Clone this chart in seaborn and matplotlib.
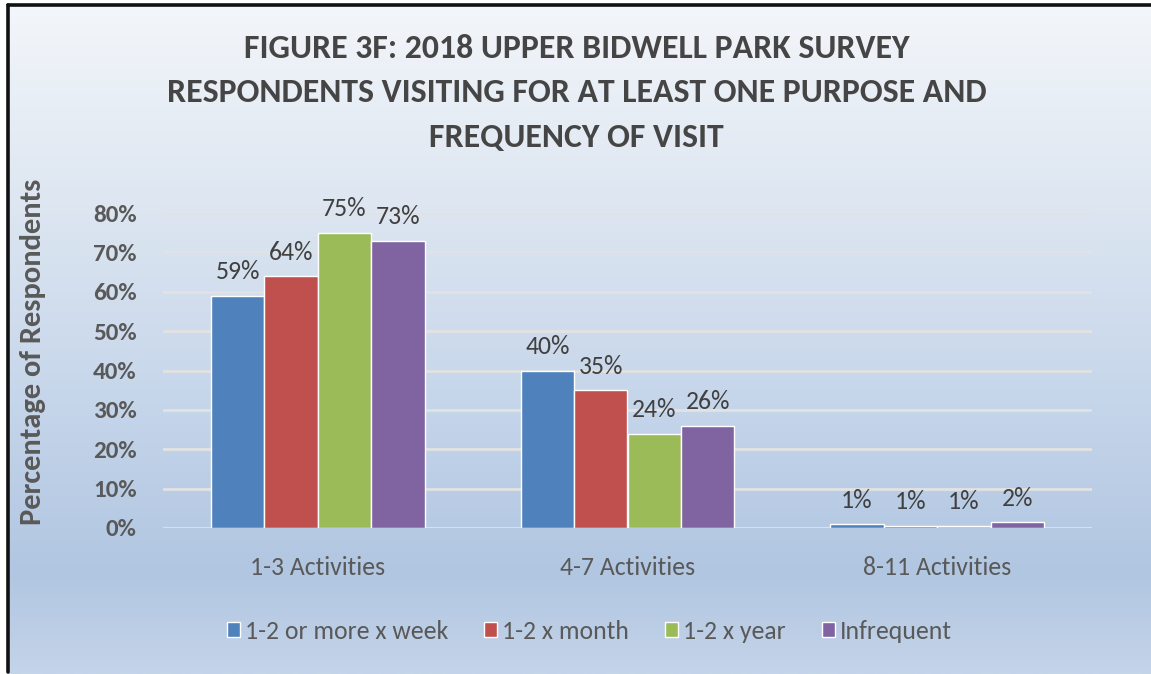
import numpy as np
import pandas as pd
import matplotlib
matplotlib.use("Agg")
import matplotlib.pyplot as plt
from matplotlib.colors import LinearSegmentedColormap
from matplotlib.lines import Line2D
import seaborn as sns

# Survey results: share of respondents by number of activities and visit frequency
categories = ["1-3 Activities", "4-7 Activities", "8-11 Activities"]
frequencies = ["1-2 or more x week", "1-2 x month", "1-2 x year", "Infrequent"]
weekly = [59, 40, 1.0]
monthly = [64, 35, 0.6]
yearly = [75, 24, 0.6]
infrequent = [73, 26, 1.5]
yticks = [0, 10, 20, 30, 40, 50, 60, 70, 80]
title = ("FIGURE 3F: 2018 UPPER BIDWELL PARK SURVEY\n"
         "RESPONDENTS VISITING FOR AT LEAST ONE PURPOSE AND\n"
         "FREQUENCY OF VISIT")

colors = ["#4F81BD", "#C0504D", "#9BBB59", "#8064A2"]
text_gray = "#595959"

rows = []
for freq, vals in zip(frequencies, [weekly, monthly, yearly, infrequent]):
    for cat, v in zip(categories, vals):
        rows.append({"Activities": cat, "Frequency": freq, "Percent": v})
df = pd.DataFrame(rows)

sns.set_theme(style="white")
plt.rcParams["font.family"] = ["Carlito", "DejaVu Sans"]

W, H = 1151, 674
fig = plt.figure(figsize=(W / 100, H / 100), dpi=100)
fig.patch.set_facecolor("white")

# Vertical gradient backdrop inside the frame
bg = fig.add_axes([8 / W, 0, 1 - 8 / W, 1 - 5 / H], zorder=-10)
grad_cmap = LinearSegmentedColormap.from_list(
    "bg", [(0.0, "#f3f6fa"), (0.30, "#dde6f1"), (0.60, "#c5d5ea"),
           (0.85, "#b1c6e1"), (1.0, "#c4d4e9")])
grad = np.linspace(0, 1, 256).reshape(-1, 1)
bg.imshow(grad, aspect="auto", cmap=grad_cmap, extent=[0, 1, 0, 1], origin="upper")
bg.set_axis_off()

# Frame lines (left and top)
fig.add_artist(Line2D([8 / W, 8 / W], [0.003, 1 - 5 / H], transform=fig.transFigure,
                      color="#111111", lw=2.6))
fig.add_artist(Line2D([8 / W, 1.0], [1 - 5 / H, 1 - 5 / H], transform=fig.transFigure,
                      color="#111111", lw=2.6))

ax = fig.add_axes([163 / W, 1 - 528 / H, (1092 - 163) / W, (528 - 213) / H])
ax.set_facecolor("none")
sns.barplot(data=df, x="Activities", y="Percent", hue="Frequency",
            order=categories, hue_order=frequencies, palette=colors,
            width=0.69, saturation=1, errorbar=None, ax=ax, zorder=3)

ax.set_ylim(0, 80)
ax.set_xlim(-0.5, 2.5)
ax.set_yticks(yticks)
ax.set_yticklabels([f"{t}%" for t in yticks], fontsize=18, fontweight="bold",
                   color=text_gray)
ax.tick_params(axis="y", length=0, pad=19)
ax.tick_params(axis="x", length=0, pad=20, labelsize=18.5, labelcolor=text_gray)
for spine in ax.spines.values():
    spine.set_visible(False)
ax.yaxis.grid(True, color="#e2e2e2", lw=2.0, zorder=0)
ax.set_axisbelow(True)
ax.set_xlabel("")
ax.set_ylabel("")
ax.text(-0.14, 0.559, "Percentage of Respondents", transform=ax.transAxes,
        rotation=90, ha="center", va="center", fontsize=22, fontweight="bold",
        color=text_gray)

for container in ax.containers:
    ax.bar_label(container, labels=[f"{v:.0f}%" for v in container.datavalues],
                 padding=9, fontsize=18.5, color="#404040", clip_on=False)

leg = ax.legend(loc="center", bbox_to_anchor=(0.459, -0.327), ncol=4, frameon=False,
                fontsize=18.5, handlelength=0.5, handleheight=0.5,
                handletextpad=0.2, columnspacing=1.4)
for t in leg.get_texts():
    t.set_color(text_gray)

fig.text(0.501, 1 - 93 / H, title, ha="center", va="center", fontsize=24.3,
         fontweight="bold", color="#454545", linespacing=1.66)

fig.savefig("out.png", dpi=100)
